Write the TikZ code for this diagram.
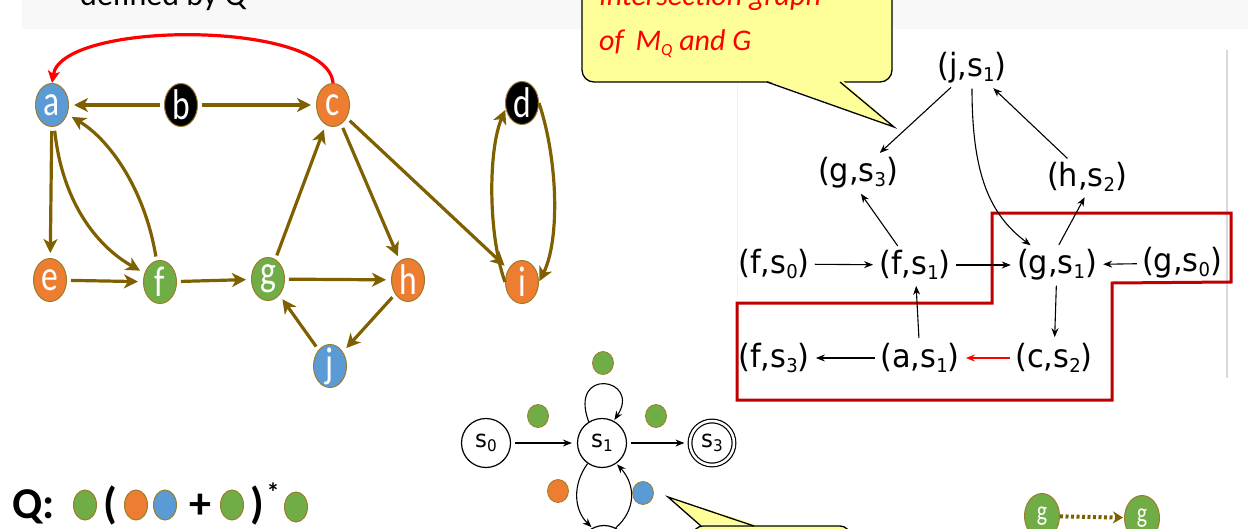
\documentclass[tikz,border=0pt]{standalone}
\usepackage{fontspec}
\usetikzlibrary{arrows.meta,shapes.geometric}
\newfontfamily\calfont{Carlito}
\newfontfamily\letfont[FakeStretch=0.78]{Carlito}
\newfontfamily\dvfont[FakeStretch=0.95]{DejaVu Sans}
\definecolor{gbrown}{HTML}{7F6000}
\definecolor{nborder}{HTML}{9C7C2C}
\definecolor{nblue}{HTML}{5B9BD5}
\definecolor{norange}{HTML}{ED7D31}
\definecolor{ngreen}{HTML}{70AD47}
\definecolor{cyellow}{HTML}{FFFF99}
\definecolor{dred}{HTML}{C00000}
\definecolor{band}{HTML}{F8F8F8}
\newcommand\pr[2]{(#1,s\raisebox{-5pt}{\fontsize{19}{19}\selectfont #2})}
\newcommand\stl[1]{s\raisebox{-4pt}{\fontsize{16}{16}\selectfont #1}}
\begin{document}
\begin{tikzpicture}[x=1pt,y=-1pt,
  gnode/.style={ellipse,draw=nborder,line width=1pt,minimum width=33pt,minimum height=43pt,inner sep=0pt,text=white,font=\letfont\fontsize{43}{43}\selectfont},
  ge/.style={draw=gbrown,line width=3.2pt,-{Stealth[length=14pt,width=14pt,inset=4pt]},shorten >=5pt,shorten <=4pt},
  lab/.style={font=\dvfont\fontsize{32}{32}\selectfont,inner sep=1pt},
  ie/.style={draw=black,line width=1.1pt,-{Stealth[length=9pt,width=7pt]},shorten >=5pt,shorten <=4pt},
  loope/.style={ie,shorten >=1pt,shorten <=0pt},
  fsm/.style={circle,draw,line width=1.2pt,minimum size=49pt,inner sep=0pt,fill=white,font=\dvfont\fontsize{24}{24}\selectfont},
  ldot/.style={ellipse,draw=nborder,line width=0.8pt,minimum width=21pt,minimum height=23pt,inner sep=0pt},
  qdot/.style={ellipse,draw=nborder,line width=1pt,minimum width=23pt,minimum height=30pt,inner sep=0pt},
  qtxt/.style={anchor=base,inner sep=0pt,font=\calfont\bfseries\fontsize{44}{44}\selectfont},
]
\useasboundingbox (0,0) rectangle (1248,528);
\clip (0,0) rectangle (1248,528);
% top band and title
\fill[band] (22,-5) rectangle (1253,29);
\node[anchor=base west,font=\calfont\fontsize{32}{32}\selectfont,inner sep=0pt] (title) at (80,5) {defined by Q};

% faint frame lines of the right picture
\draw[black!15,line width=1.3pt] (1227,50) -- (1227,378);
\draw[black!5,line width=1pt] (737,50) -- (737,300);

% top callout
\draw[fill=cyellow,line width=1.3pt,rounded corners=12pt] (582,-30) rectangle (892,82);
\fill[cyellow] (765,80) -- (894,127) -- (842,80) -- cycle;
\draw[line width=1.3pt] (767,82) -- (894,127) -- (840,82);
\node[anchor=base west,text=red,font=\calfont\itshape\fontsize{30}{30}\selectfont,inner sep=0pt] (ct1) at (599,5) {Intersection graph};
\node[anchor=base west,text=red,font=\calfont\itshape\fontsize{30}{30}\selectfont,inner sep=0pt] (ct2) at (599,50) {of\, M\raisebox{-5pt}{\fontsize{17}{17}\selectfont Q} and G};

% bottom callout
\draw[fill=cyellow,line width=1.3pt,rounded corners=10pt] (693,526) rectangle (850,580);
\fill[cyellow] (699,524.5) -- (668,497) -- (756,524.5) -- cycle;
\draw[line width=1.3pt] (701,526) -- (668,497) -- (754,526);

% left graph
\node[gnode,fill=nblue] (a) at (52,105) {a};
\node[gnode,fill=black] (b) at (181,105) {b};
\node[gnode,fill=norange] (c) at (333,105) {c};
\node[gnode,fill=black] (d) at (522,103) {d};
\node[gnode,fill=norange] (e) at (50,280) {e};
\node[gnode,fill=ngreen] (f) at (160,282) {f};
\node[gnode,fill=ngreen,inner sep=-2pt] (g) at (268,279) {g};
\node[gnode,fill=norange] (h) at (408,280) {h};
\node[gnode,fill=norange] (i) at (522,282) {i};
\node[gnode,fill=nblue,inner sep=-6pt] (j) at (330,366) {j};

\draw[ge] (b) -- (a);
\draw[ge] (b) -- (c);
\draw[ge,draw=red,shorten >=0pt,shorten <=0pt,-{Stealth[length=12pt,width=12pt,inset=3pt]}] (c.north) .. controls (328,20) and (62,20) .. (a.north);
\draw[ge] (a) -- (e);
\draw[ge] (a) .. controls (62,200) and (95,245) .. (f);
\draw[ge] (f) .. controls (145,190) and (110,140) .. (a);
\draw[ge] (e) -- (f);
\draw[ge] (f) -- (g);
\draw[ge] (g) -- (c);
\draw[ge] (g) -- (h);
\draw[ge] (c) -- (h);
\draw[ge] (c) -- (i);
\draw[ge] (h) -- (j);
\draw[ge] (j) -- (g);
\draw[ge,shorten <=0pt,shorten >=1pt] (i.west) .. controls (488,235) and (488,150) .. (d.200);
\draw[ge,shorten <=0pt,shorten >=1pt] (d.east) .. controls (558,160) and (560,240) .. (i.east);

% intersection graph
\draw[dred,line width=3pt] (992,213) -- (1231,213) -- (1231,282) -- (1112,283) -- (1112,400) -- (737,400) -- (737,303) -- (992,303) -- cycle;
\node[lab] (js1) at (972,68) {\pr{j}{1}};
\node[lab] (gs3) at (858,173) {\pr{g}{3}};
\node[lab] (hs2) at (1087,177) {\pr{h}{2}};
\node[lab] (fs0) at (774,264) {\pr{f}{0}};
\node[lab] (fs1) at (915,265) {\pr{f}{1}};
\node[lab] (gs1) at (1057,265) {\pr{g}{1}};
\node[lab] (gs0) at (1182,263) {\pr{g}{0}};
\node[lab] (fs3) at (774,358) {\pr{f}{3}};
\node[lab] (as1) at (920,358) {\pr{a}{1}};
\node[lab] (cs2) at (1054,358) {\pr{c}{2}};

\draw[ie] (js1) -- (gs3);
\draw[ie] (js1) .. controls (972,175) and (990,215) .. (gs1);
\draw[ie] (hs2) -- (js1);
\draw[ie] (gs1.north) -- (hs2.south);
\draw[ie] ([xshift=-15pt]fs1.north) -- (gs3.south);
\draw[ie] (fs0) -- (fs1);
\draw[ie] (fs1) -- (gs1);
\draw[ie] (gs0) -- (gs1);
\draw[ie] (gs1) -- (cs2);
\draw[ie] (as1) -- (fs1);
\draw[ie,draw=red,line width=2pt] (cs2) -- (as1);
\draw[ie] (as1) -- (fs3);

% automaton
\node[fsm] (s0) at (486,443) {\stl{0}};
\node[fsm] (s1) at (602,443) {\stl{1}};
\node[fsm,minimum size=44pt,double,double distance=2.5pt] (s3) at (712,443) {\stl{3}};
\node[fsm] (s2) at (604,550) {};
\draw[ie] (s0) -- (s1);
\draw[ie] (s1) -- (s3);
\draw[loope] (s1.122) .. controls (568,366) and (642,378) .. (s1.62);
\draw[loope] (s1.235) .. controls (572,485) and (574,510) .. (s2.118);
\draw[loope] (s2.62) .. controls (636,510) and (636,485) .. (s1.-55);
\node[ldot,fill=ngreen] (l1) at (603,363) {};
\node[ldot,fill=ngreen] (l2) at (538,416) {};
\node[ldot,fill=ngreen] (l3) at (656,416) {};
\node[ldot,fill=norange] (l4) at (558,491) {};
\node[ldot,fill=nblue] (l5) at (643,493) {};

% query
\node[qtxt,anchor=base west] (q) at (12,518) {Q:};
\node[qdot,fill=ngreen] (q1) at (85,505) {};
\node[qtxt] (lp) at (110,518) {(};
\node[qdot,fill=norange] (q2) at (136,505) {};
\node[qdot,fill=nblue] (q3) at (165,505) {};
\node[qtxt] (plus) at (200,518) {+};
\node[qdot,fill=ngreen] (q4) at (232,505) {};
\node[qtxt] (rp) at (257,518) {)};
\node[qtxt,font=\calfont\bfseries\fontsize{26}{26}\selectfont] (star) at (273,501) {*};
\node[qdot,fill=ngreen] (q5) at (296,507) {};

% legend g ... g
\node[gnode,fill=ngreen,minimum width=35pt,minimum height=45pt,font=\letfont\fontsize{28}{28}\selectfont] (g1) at (1042,516) {g};
\node[gnode,fill=ngreen,minimum width=35pt,minimum height=45pt,font=\letfont\fontsize{28}{28}\selectfont] (g2) at (1142,518) {g};
\draw[gbrown,line width=4pt,dash pattern=on 3pt off 2.5pt,shorten >=1pt,-{Stealth[length=10pt,width=12pt,inset=3pt]}] (g1) -- (g2);
\end{tikzpicture}
\end{document}
